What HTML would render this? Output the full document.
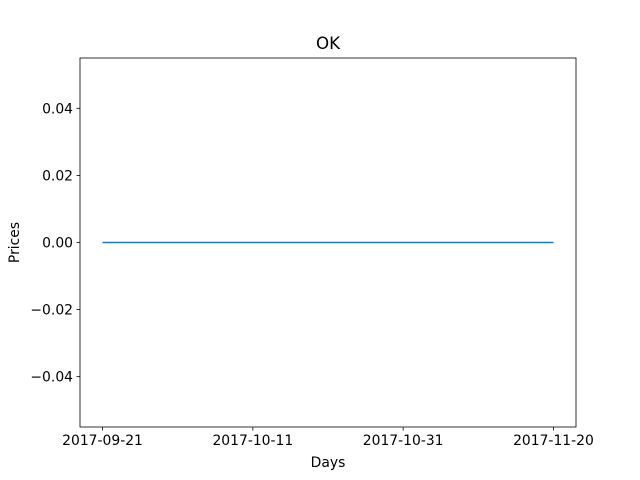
<!DOCTYPE html>
<html><head><meta charset="utf-8"><style>
body{margin:0;background:#fff;}
svg{display:block;font-family:"DejaVu Sans","Liberation Sans",sans-serif;}
</style></head><body>
<svg id="chart" width="640" height="480">
<rect width="640" height="480" fill="#fff"/>
<text x="328" y="49" font-size="16.7" text-anchor="middle">OK</text>
<text x="328" y="467" font-size="13.9" text-anchor="middle">Days</text>
<text x="19" y="242.5" font-size="13.9" text-anchor="middle" transform="rotate(-90 19 242.5)">Prices</text>
<g id="ticks"></g>
<path id="series" fill="none" stroke="#1f77b4" stroke-width="1.5"/>
<rect x="80" y="58" width="496" height="369" fill="none" stroke="#000" stroke-width="0.8"/>
</svg>
<script>
const dates = ["2017-09-21","2017-10-01","2017-10-11","2017-10-21","2017-10-31","2017-11-10","2017-11-20"];
const prices = [0,0,0,0,0,0,0];
const xTickLabels = ["2017-09-21","2017-10-11","2017-10-31","2017-11-20"];
const yTickValues = [-0.04,-0.02,0.00,0.02,0.04];

const L=80,R=576,T=58,B=427;
const day=s=>Date.parse(s+"T00:00:00Z")/86400000;
const d0=day(dates[0]),d1=day(dates[dates.length-1]);
const xm=(d1-d0)*0.05;
const x=d=>L+(day(d)-(d0-xm))/((d1+xm)-(d0-xm))*(R-L);
const y=v=>T+(0.055-v)/0.11*(B-T);
const ns="http://www.w3.org/2000/svg";
const g=document.getElementById('ticks');
function el(tag,attrs){const e=document.createElementNS(ns,tag);for(const k in attrs)e.setAttribute(k,attrs[k]);g.appendChild(e);return e;}
xTickLabels.forEach(t=>{
  const px=x(t);
  const ln=el('line',{x1:px,x2:px,y1:B,y2:B+3.5,stroke:'#000','stroke-width':0.8});
  
  
  const tx=el('text',{x:px,y:B+18,'font-size':13.9,'text-anchor':'middle'});
  tx.textContent=t;
  
  
});
yTickValues.forEach(v=>{
  const py=y(v);
  const ln=el('line',{x1:L-3.5,x2:L,y1:py,y2:py,stroke:'#000','stroke-width':0.8});
  
  
  const tx=el('text',{x:L-7,y:py+5,'font-size':13.9,'text-anchor':'end'});
  tx.textContent=(v<0?'\u2212':'')+Math.abs(v).toFixed(2);
  
  
});
document.getElementById('series').setAttribute('d',dates.map((d,i)=>(i?'L':'M')+x(d)+','+y(prices[i])).join(' '));
</script>
</body></html>
